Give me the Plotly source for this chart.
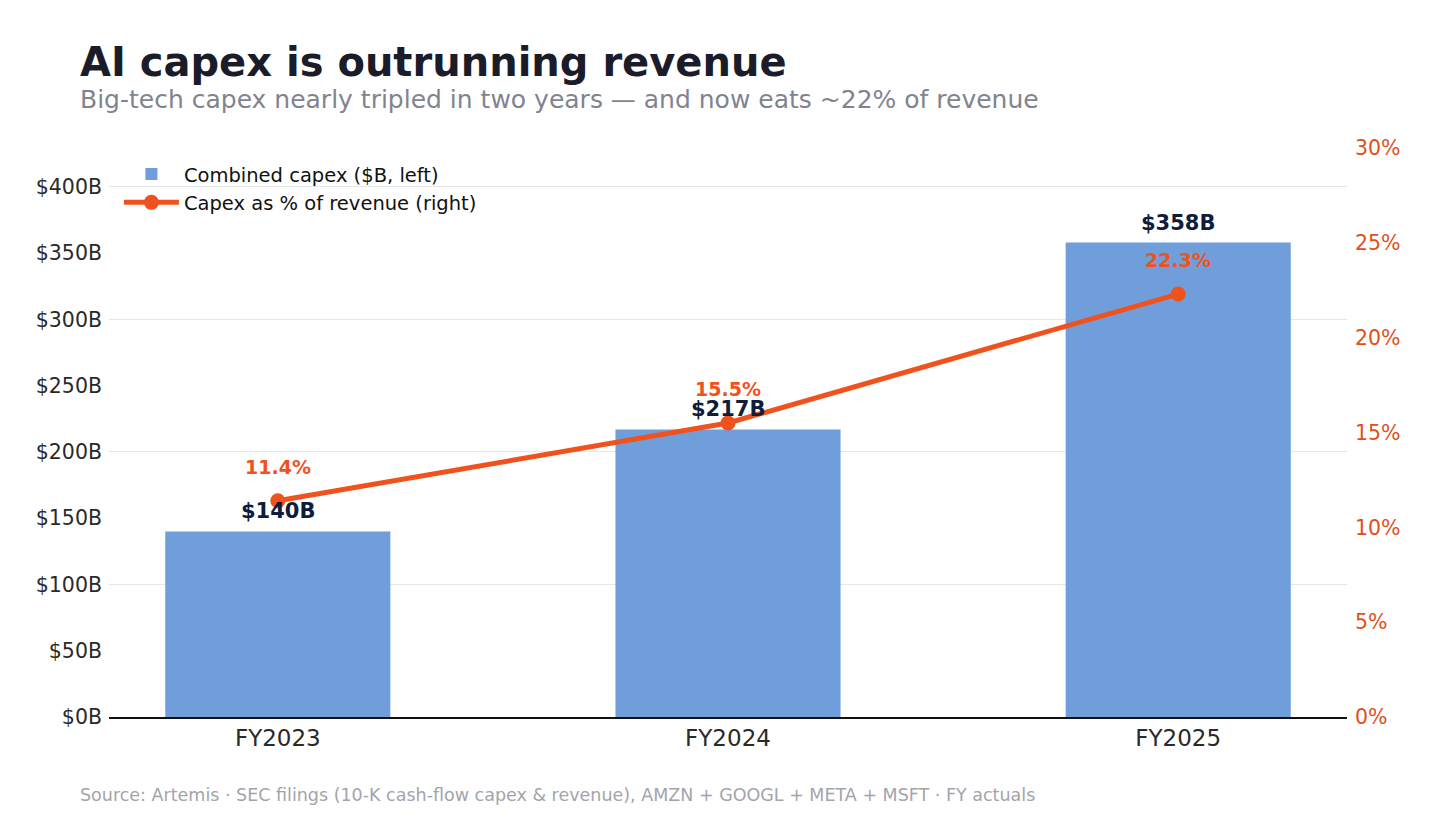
import plotly.graph_objects as go

categories = ["FY2023", "FY2024", "FY2025"]
capex_b = [140, 217, 358]
capex_pct = [11.4, 15.5, 22.3]
left_ticks = [0, 50, 100, 150, 200, 250, 300, 350, 400]
right_ticks = [0, 5, 10, 15, 20, 25, 30]

BAR = "#6f9edb"
ORANGE = "#f0521e"
NAVY = "#0f1c3a"
FONT = "DejaVu Sans"

fig = go.Figure()
# invisible trace that carries the 100-step gridlines
fig.add_trace(go.Scatter(x=categories, y=capex_b, yaxis="y3", mode="none",
                         showlegend=False, hoverinfo="skip"))
fig.add_trace(go.Bar(
    x=categories, y=capex_b, name="Combined capex ($B, left)",
    marker=dict(color=BAR, line=dict(width=0)), width=0.5, yaxis="y",
))
fig.add_trace(go.Scatter(
    x=categories, y=capex_pct, name="Capex as % of revenue (right)",
    mode="lines+markers", line=dict(color=ORANGE, width=5),
    marker=dict(color=ORANGE, size=15), yaxis="y2",
))

annotations = []
for c, v in zip(categories, capex_b):
    annotations.append(dict(x=c, y=v, xref="x", yref="y", text=f"<b>${v}B</b>",
                            showarrow=False, yanchor="bottom", yshift=6,
                            font=dict(family=FONT, size=21, color=NAVY)))
for c, p in zip(categories, capex_pct):
    annotations.append(dict(x=c, y=p, xref="x", yref="y2", text=f"<b>{p:.1f}%</b>",
                            showarrow=False, yanchor="bottom", yshift=21,
                            font=dict(family=FONT, size=19, color=ORANGE)))

annotations.append(dict(xref="paper", yref="paper", x=-0.025, y=1.151,
                        text="<b>AI capex is outrunning revenue</b>",
                        showarrow=False, xanchor="left", yanchor="middle",
                        font=dict(family=FONT, size=40, color="#1a1d29")))
annotations.append(dict(xref="paper", yref="paper", x=-0.025, y=1.086,
                        text="Big-tech capex nearly tripled in two years — and now eats ~22% of revenue",
                        showarrow=False, xanchor="left", yanchor="middle",
                        font=dict(family=FONT, size=25, color="#80848f")))
annotations.append(dict(xref="paper", yref="paper", x=-0.025, y=-0.137,
                        text="Source: Artemis · SEC filings (10-K cash-flow capex & revenue), AMZN + GOOGL + META + MSFT · FY actuals",
                        showarrow=False, xanchor="left", yanchor="middle",
                        font=dict(family=FONT, size=17.5, color="#a3a4ab")))

fig.update_layout(
    width=1440, height=808,
    margin=dict(l=101, r=101, t=140, b=99),
    paper_bgcolor="white", plot_bgcolor="white",
    font=dict(family=FONT, color="#2a2a2a"),
    showlegend=True,
    legend=dict(x=0.008, y=0.988, xanchor="left", yanchor="top", bgcolor="rgba(0,0,0,0)",
                font=dict(family=FONT, size=19.5, color="#111"), itemwidth=55,
                tracegroupgap=0),
    xaxis=dict(range=[-0.375, 2.375], showgrid=False, showline=True, linecolor="#111",
               linewidth=1.5, ticks="", tickfont=dict(family=FONT, size=23, color="#2a2a2a")),
    yaxis=dict(range=[0, 429.4], tickvals=left_ticks, ticktext=[f"${t}B" for t in left_ticks],
               showgrid=False, zeroline=False, showline=False, ticks="",
               ticklabelstandoff=6,
               tickfont=dict(family=FONT, size=20.5, color="#2a2a2a")),
    yaxis3=dict(range=[0, 429.4], overlaying="y", dtick=100, tick0=0, showgrid=True,
                gridcolor="#e4e6ea", gridwidth=1.2, showticklabels=False, zeroline=False),
    yaxis2=dict(range=[0, 30], overlaying="y", side="right", tickvals=right_ticks,
                ticktext=[f"{t}%" for t in right_ticks], showgrid=False, zeroline=False,
                ticklabelstandoff=7,
                tickfont=dict(family=FONT, size=20.5, color="#e0501c")),
    annotations=annotations,
)

fig.write_html("out.html")
